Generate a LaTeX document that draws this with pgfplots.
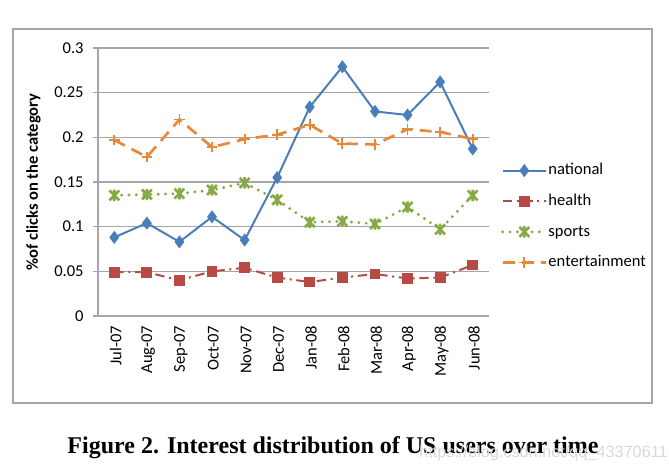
\documentclass[border=0pt]{standalone}
\usepackage{pgfplots}
\pgfplotsset{compat=1.18}
\usepackage{fontspec}
\setmainfont{Carlito}
\newfontfamily\titlefont{Liberation Serif}
\newfontfamily\wmfont{Liberation Sans}

\definecolor{cNat}{HTML}{4A7EBB}
\definecolor{cHea}{HTML}{B84A46}
\definecolor{cSpo}{HTML}{87AA45}
\definecolor{cEnt}{HTML}{E98838}
\definecolor{cGrid}{HTML}{A6A6A6}

% Excel style star: an x with a vertical bar
\pgfdeclareplotmark{xstar}{%
  \pgfpathmoveto{\pgfqpoint{-\pgfplotmarksize}{-\pgfplotmarksize}}%
  \pgfpathlineto{\pgfqpoint{\pgfplotmarksize}{\pgfplotmarksize}}%
  \pgfpathmoveto{\pgfqpoint{-\pgfplotmarksize}{\pgfplotmarksize}}%
  \pgfpathlineto{\pgfqpoint{\pgfplotmarksize}{-\pgfplotmarksize}}%
  \pgfpathmoveto{\pgfqpoint{0pt}{-1.15\pgfplotmarksize}}%
  \pgfpathlineto{\pgfqpoint{0pt}{1.15\pgfplotmarksize}}%
  \pgfusepathqstroke}

\newcommand{\chartfont}{\fontsize{12.4}{14}\selectfont}

\begin{document}
\begin{tikzpicture}[x=0.75pt,y=0.75pt]
\useasboundingbox (0,0) rectangle (669,471);
% outer chart frame
\draw[cGrid, line width=1.5pt] (13,442) rectangle (652,68);
\coordinate (plotSW) at (98,155);

\begin{axis}[
  at={(plotSW)}, anchor=south west,
  scale only axis, width=293.25pt, height=201pt,
  xmin=0.5, xmax=12.5, ymin=0, ymax=0.3,
  axis lines*=left,
  axis line style={cGrid, line width=0.8pt},
  tick align=outside,
  xtick={1,...,12},
  xticklabels={Jul-07,Aug-07,Sep-07,Oct-07,Nov-07,Dec-07,Jan-08,Feb-08,Mar-08,Apr-08,May-08,Jun-08},
  xtick style={draw=none},
  minor xtick={0.5,1.5,...,12.5},
  minor tick length=4.5pt,
  minor tick style={cGrid, line width=0.8pt},
  ytick={0,0.05,0.1,0.15,0.2,0.25,0.3},
  yticklabels={0,0.05,0.1,0.15,0.2,0.25,0.3},
  major tick length=3.75pt,
  ytick style={cGrid, line width=0.8pt},
  ymajorgrids,
  grid style={cGrid, line width=0.8pt},
  /pgf/number format/assume math mode=true,
  ticklabel style={font=\chartfont, text=black},
  xticklabel style={rotate=90, anchor=east, yshift=-1pt},
  yticklabel style={xshift=-3.5pt},
  ylabel={\bfseries \%of clicks on the category},
  ylabel style={font=\chartfont, at={(axis description cs:-0.165,0.5)}, anchor=center},
  legend cell align=left,
  legend style={at={(axis description cs:1.02,0.371)}, anchor=west, draw=none, fill=none,
    font=\chartfont, row sep=9.5pt,
    nodes={inner sep=1pt, text height=9pt, text depth=2.5pt}},
  legend image code/.code={\draw[mark repeat=2,mark phase=2] plot coordinates {(0cm,0cm) (0.57cm,0cm) (1.13cm,0cm)};},
]
\addplot[cNat, line width=1.5pt, mark=diamond*, mark size=3.7pt, mark options={solid}]
  coordinates {(1,0.088) (2,0.104) (3,0.083) (4,0.111) (5,0.085) (6,0.155)
               (7,0.234) (8,0.279) (9,0.229) (10,0.225) (11,0.262) (12,0.187)};
\addlegendentry{national}
\addplot[cHea, line width=1.5pt, dash pattern=on 7pt off 3.5pt on 1.5pt off 3.5pt,
         mark=square*, mark size=3.3pt, mark options={solid}]
  coordinates {(1,0.049) (2,0.049) (3,0.040) (4,0.050) (5,0.054) (6,0.043)
               (7,0.038) (8,0.043) (9,0.047) (10,0.042) (11,0.043) (12,0.057)};
\addlegendentry{health}
\addplot[cSpo, line width=2.4pt, line cap=round, dash pattern=on 0pt off 5.5pt,
         mark=xstar, mark size=3.7pt, mark options={solid, line width=2pt, line cap=butt}]
  coordinates {(1,0.135) (2,0.136) (3,0.137) (4,0.141) (5,0.149) (6,0.130)
               (7,0.105) (8,0.106) (9,0.103) (10,0.122) (11,0.097) (12,0.135)};
\addlegendentry{sports}
\addplot[cEnt, line width=2pt, dash pattern=on 9pt off 5.5pt,
         mark=+, mark size=4pt, mark options={solid, line width=1.4pt}]
  coordinates {(1,0.197) (2,0.178) (3,0.220) (4,0.189) (5,0.198) (6,0.203)
               (7,0.214) (8,0.193) (9,0.192) (10,0.209) (11,0.206) (12,0.198)};
\addlegendentry{entertainment}
\end{axis}

\node[anchor=base, font=\titlefont\bfseries\fontsize{18}{20}\selectfont] at (333,17)
  {Figure 2. Interest distribution of US users over time};
\node[anchor=base east, text=gray!30, font=\wmfont\fontsize{12.2}{14}\selectfont, inner sep=0pt] at (668,13)
  {https://blog.csdn.net/qq\_43370611};
\end{tikzpicture}
\end{document}
